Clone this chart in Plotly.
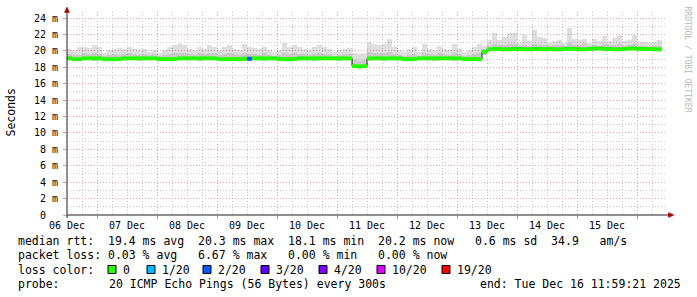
import plotly.graph_objects as go
from datetime import datetime, timedelta

# ---------------- data ----------------
bin_start = datetime(2025, 12, 6, 12, 0, 0)
bin_hours = 2

median_ms = [
    19.1, 19.0, 19.0, 19.1, 19.1, 19.1, 19.1, 19.0, 19.0, 19.0, 19.0, 19.1,
    19.1, 19.1, 19.1, 19.1, 19.1, 19.1, 19.0, 19.0, 19.0, 19.0, 19.1, 19.1,
    19.1, 19.1, 19.1, 19.1, 19.1, 19.1, 19.0, 19.0, 19.0, 19.0, 19.0, 19.05,
    19.05, 19.1, 19.1, 19.1, 19.1, 19.1, 19.0, 19.0, 19.0, 19.0, 19.1, 19.1,
    19.1, 19.1, 19.1, 19.1, 19.1, 19.1, 19.1, 19.1, 19.1, 18.15, 18.1, 18.15,
    19.1, 19.1, 19.1, 19.1, 19.1, 19.1, 19.1, 19.0, 19.0, 19.0, 19.1, 19.1,
    19.1, 19.1, 19.1, 19.1, 19.1, 19.1, 19.1, 19.0, 19.0, 19.0, 19.0, 19.9,
    20.2, 20.25, 20.25, 20.2, 20.2, 20.25, 20.25, 20.2, 20.2, 20.25, 20.25, 20.2,
    20.25, 20.2, 20.2, 20.25, 20.25, 20.25, 20.2, 20.2, 20.25, 20.3, 20.3, 20.25,
    20.25, 20.2, 20.2, 20.25, 20.3, 20.3, 20.25, 20.25, 20.25, 20.2, 20.2,
]

ping_max_ms = [
    20.3, 20.1, 20.5, 20.5, 20.4, 20.7, 20.5, 19.8, 20.1, 20.3, 20.4, 20.2,
    20.5, 20.2, 20.1, 20.2, 19.9, 20.1, 19.8, 20.1, 20.5, 20.7, 20.9, 20.7,
    20.2, 20.1, 20.5, 20.3, 20.7, 20.5, 20.1, 20.5, 20.7, 20.3, 20.1, 20.9,
    20.5, 20.4, 20.3, 20.5, 20.1, 19.9, 20.1, 21.0, 20.5, 20.7, 20.5, 20.3,
    20.1, 20.5, 20.7, 20.5, 20.3, 19.9, 20.1, 20.3, 20.4, 19.7, 19.6, 19.7,
    21.1, 20.9, 20.7, 20.9, 21.4, 20.5, 20.1, 19.9, 20.2, 20.5, 19.9, 20.9,
    20.3, 20.1, 20.6, 20.3, 20.1, 20.9, 20.3, 19.9, 20.1, 20.5, 20.9, 20.6,
    21.3, 22.2, 21.3, 21.7, 22.2, 22.2, 21.0, 21.9, 21.2, 22.6, 21.7, 21.6,
    21.0, 21.2, 21.3, 21.0, 22.8, 21.5, 21.3, 21.4, 21.0, 21.5, 21.2, 21.8,
    21.2, 21.6, 21.9, 21.2, 21.3, 21.9, 21.1, 21.1, 21.0, 21.1, 21.3,
]

ping_upper_ms = [
    19.6, 19.5, 19.5, 19.7, 19.6, 19.8, 19.6, 19.4, 19.5, 19.6, 19.5, 19.6,
    19.7, 19.6, 19.5, 19.6, 19.5, 19.6, 19.4, 19.5, 19.6, 19.7, 19.8, 19.7,
    19.6, 19.5, 19.7, 19.6, 19.8, 19.7, 19.5, 19.6, 19.7, 19.6, 19.5, 19.8,
    19.6, 19.6, 19.5, 19.7, 19.5, 19.4, 19.5, 19.8, 19.6, 19.7, 19.6, 19.6,
    19.5, 19.6, 19.7, 19.6, 19.6, 19.4, 19.5, 19.6, 19.6, 18.9, 18.8, 18.9,
    19.9, 19.8, 19.7, 19.7, 19.9, 19.6, 19.5, 19.4, 19.5, 19.6, 19.4, 19.7,
    19.6, 19.5, 19.7, 19.6, 19.5, 19.7, 19.6, 19.4, 19.5, 19.6, 19.7, 20.2,
    20.6, 20.8, 20.7, 20.7, 20.8, 20.8, 20.6, 20.7, 20.6, 20.9, 20.7, 20.7,
    20.6, 20.7, 20.7, 20.6, 21.0, 20.7, 20.7, 20.8, 20.6, 20.7, 20.6, 20.8,
    20.7, 20.7, 20.8, 20.6, 20.7, 20.8, 20.6, 20.6, 20.5, 20.6, 20.6,
]

ping_min_ms = [
    18.9, 18.8, 18.8, 18.9, 18.9, 18.8, 18.9, 18.8, 18.8, 18.8, 18.8, 18.9,
    18.9, 18.9, 18.8, 18.9, 18.9, 18.9, 18.8, 18.8, 18.8, 18.8, 18.9, 18.9,
    18.9, 18.9, 18.8, 18.9, 18.9, 18.9, 18.8, 18.8, 18.8, 18.8, 18.8, 18.8,
    18.8, 18.9, 18.9, 18.8, 18.9, 18.9, 18.8, 18.8, 18.8, 18.8, 18.9, 18.9,
    18.9, 18.8, 18.9, 18.9, 18.9, 18.9, 18.8, 18.9, 18.9, 17.9, 17.9, 17.9,
    18.8, 18.9, 18.9, 18.8, 18.9, 18.9, 18.9, 18.8, 18.8, 18.8, 18.9, 18.9,
    18.9, 18.8, 18.9, 18.9, 18.9, 18.8, 18.9, 18.8, 18.8, 18.8, 18.8, 19.5,
    20.0, 20.0, 20.0, 20.0, 20.0, 20.0, 20.0, 20.0, 20.0, 20.0, 20.0, 20.0,
    20.0, 20.0, 20.0, 20.0, 20.0, 20.0, 20.0, 20.0, 20.0, 20.0, 20.1, 20.0,
    20.0, 20.0, 20.0, 20.0, 20.1, 20.1, 20.0, 20.0, 20.0, 20.0, 20.0,
]

loss_pct = [0.0] * 36 + [6.67] + [0.0] * 82

loss_levels = [0, 1, 2, 3, 4, 10, 19]
loss_labels = ["0", "1/20", "2/20", "3/20", "4/20", "10/20", "19/20"]
loss_colors = ["#26ff00", "#00b8ff", "#0059ff", "#5e00ff", "#7e00ff", "#dd00ff", "#ff0000"]

y_tick_vals = [0, 2, 4, 6, 8, 10, 12, 14, 16, 18, 20, 22, 24]
y_tick_text = ["0\u00a0\u00a0", "2 m", "4 m", "6 m", "8 m", "10 m", "12 m",
               "14 m", "16 m", "18 m", "20 m", "22 m", "24 m"]
day_labels = ["06 Dec", "07 Dec", "08 Dec", "09 Dec", "10 Dec",
              "11 Dec", "12 Dec", "13 Dec", "14 Dec", "15 Dec"]

legend_lines = [
    "median rtt:  19.4 ms avg  20.3 ms max  18.1 ms min  20.2 ms now   0.6 ms sd  34.9   am/s",
    "packet loss: 0.03 % avg   6.67 % max   0.00 % min   0.00 % now",
]
loss_title = "loss color:"
probe_label = "probe:"
probe_text = "20 ICMP Echo Pings (56 Bytes) every 300s"
end_text = "end: Tue Dec 16 11:59:21 2025"
range_start = "2025-12-06 11:59:21"
range_end = "2025-12-16 11:59:21"

# ---------------- layout geometry ----------------
W, H = 697, 297
L, R, T, B = 67, 30, 12, 82
PW, PH = W - L - R, H - T - B


def px(x):
    return (x - L) / PW


def py(y):
    return (T + PH - y) / PH


MONO = "DejaVu Sans Mono"
n = len(median_ms)
step = timedelta(hours=bin_hours)
centers = [bin_start + step * (i + 0.5) for i in range(n)]
edges = [bin_start + step * i for i in range(n + 1)]
width_ms = bin_hours * 3600 * 1000


def loss_color(p):
    pings = p / 100.0 * 20
    for lvl, col in zip(loss_levels, loss_colors):
        if pings <= lvl + 1e-9:
            return col
    return loss_colors[-1]


fig = go.Figure()

# smoke: outer (light)
fig.add_trace(go.Bar(
    x=centers, y=[hi - lo for hi, lo in zip(ping_max_ms, ping_min_ms)], base=ping_min_ms,
    width=width_ms, marker=dict(color="rgba(128,128,128,0.26)", line=dict(width=0)),
    hoverinfo="skip", showlegend=False))
# smoke: inner (darker)
fig.add_trace(go.Bar(
    x=centers, y=[hi - lo for hi, lo in zip(ping_upper_ms, ping_min_ms)], base=ping_min_ms,
    width=width_ms, marker=dict(color="rgba(128,128,128,0.22)", line=dict(width=0)),
    hoverinfo="skip", showlegend=False))
# dark median step line (visible at the steps)
fig.add_trace(go.Scatter(
    x=edges, y=median_ms + [median_ms[-1]], mode="lines",
    line=dict(color="#202020", width=1, shape="hv"), hoverinfo="skip", showlegend=False))
# loss-coloured median segments, one trace per colour
seg_colors = [loss_color(p) for p in loss_pct]
for col in loss_colors:
    xs, ys = [], []
    for i in range(n):
        if seg_colors[i] == col:
            xs += [edges[i], edges[i + 1], None]
            ys += [median_ms[i], median_ms[i], None]
    if xs:
        fig.add_trace(go.Scatter(x=xs, y=ys, mode="lines", connectgaps=False,
                                 line=dict(color=col, width=4), hoverinfo="skip", showlegend=False))

grid_minor = dict(showgrid=True, gridcolor="#c8c8c8", griddash="1px,2px", gridwidth=1)

fig.update_layout(
    width=W, height=H, autosize=False,
    margin=dict(l=L, r=R, t=T, b=B, pad=0),
    paper_bgcolor="white", plot_bgcolor="white",
    barmode="overlay", bargap=0,
    showlegend=False,
    xaxis=dict(
        type="date", range=[range_start, range_end],
        tick0="2025-12-07 00:00:00", dtick=86400000,
        showticklabels=False, ticks="outside", ticklen=3, tickcolor="#e89090",
        showgrid=True, gridcolor="#eea0a0", griddash="1px,2px", gridwidth=1,
        minor=dict(dtick=6 * 3600 * 1000, **grid_minor),
        showline=False, zeroline=False, fixedrange=True,
    ),
    yaxis=dict(
        range=[0, 24.75], tickmode="array", tickvals=y_tick_vals, ticktext=y_tick_text,
        ticks="outside", ticklen=3, tickcolor="#e89090",
        tickfont=dict(family=MONO, size=10, color="#000000"),
        ticklabelstandoff=3,
        showgrid=True, gridcolor="#eea0a0", griddash="1px,2px", gridwidth=1,
        minor=dict(dtick=1, **grid_minor),
        showline=False, zeroline=False, fixedrange=True,
    ),
)

shapes = []
# axes
shapes.append(dict(type="line", xref="paper", yref="paper", x0=px(67), x1=px(669), y0=py(215), y1=py(215),
                   line=dict(color="#202020", width=1)))
shapes.append(dict(type="line", xref="paper", yref="paper", x0=px(67), x1=px(67), y0=py(218), y1=py(11),
                   line=dict(color="#202020", width=1)))
# arrows
shapes.append(dict(type="path", xref="paper", yref="paper",
                   path=f"M {px(67)},{py(7)} L {px(64.5)},{py(12.5)} L {px(69.5)},{py(12.5)} Z",
                   fillcolor="#b00000", line=dict(color="#b00000", width=0.5)))
shapes.append(dict(type="path", xref="paper", yref="paper",
                   path=f"M {px(674)},{py(215)} L {px(668.5)},{py(212.5)} L {px(668.5)},{py(217.5)} Z",
                   fillcolor="#b00000", line=dict(color="#b00000", width=0.5)))

annotations = []
# x labels at noon
for d, lab in enumerate(day_labels):
    t = datetime(2025, 12, 6 + d, 12, 0, 0)
    annotations.append(dict(x=t, xref="x", y=py(225.5), yref="paper", text=lab, showarrow=False,
                            xanchor="center", yanchor="middle",
                            font=dict(family=MONO, size=10, color="#000000")))
# y title
annotations.append(dict(x=px(10.5), y=py(113), xref="paper", yref="paper", text="Seconds", textangle=-90,
                        showarrow=False, xanchor="center", yanchor="middle",
                        font=dict(family=MONO, size=11.5, color="#000000")))
# watermark
annotations.append(dict(x=px(687.5), y=py(59), xref="paper", yref="paper", text="RRDTOOL / TOBI OETIKER",
                        textangle=90, showarrow=False, xanchor="center", yanchor="middle",
                        font=dict(family=MONO, size=8, color="#b8b8b8")))

LEG = dict(family=MONO, size=11.5, color="#000000")
line_y = [240.5, 255, 269.5, 284]
for i, txt in enumerate(legend_lines):
    annotations.append(dict(x=px(16), y=py(line_y[i]), xref="paper", yref="paper", text=txt.replace(" ", "\u00a0"),
                            showarrow=False, xanchor="left", yanchor="middle", font=LEG))
annotations.append(dict(x=px(16), y=py(line_y[2]), xref="paper", yref="paper", text=loss_title.replace(" ", "\u00a0"),
                        showarrow=False, xanchor="left", yanchor="middle", font=LEG))
sq_x = [108, 147, 203, 261, 319, 377, 442]
for sx, lab, col in zip(sq_x, loss_labels, loss_colors):
    shapes.append(dict(type="rect", xref="paper", yref="paper", x0=px(sx), x1=px(sx + 8),
                       y0=py(line_y[2] + 4), y1=py(line_y[2] - 4), fillcolor=col,
                       line=dict(color="#000000", width=1)))
    annotations.append(dict(x=px(sx + 13), y=py(line_y[2]), xref="paper", yref="paper", text=lab,
                            showarrow=False, xanchor="left", yanchor="middle", font=LEG))
annotations.append(dict(x=px(16), y=py(line_y[3]), xref="paper", yref="paper", text=probe_label,
                        showarrow=False, xanchor="left", yanchor="middle", font=LEG))
annotations.append(dict(x=px(107), y=py(line_y[3]), xref="paper", yref="paper", text=probe_text.replace(" ", "\u00a0"),
                        showarrow=False, xanchor="left", yanchor="middle", font=LEG))
annotations.append(dict(x=px(478), y=py(line_y[3]), xref="paper", yref="paper", text=end_text.replace(" ", "\u00a0"),
                        showarrow=False, xanchor="left", yanchor="middle", font=LEG))

fig.update_layout(shapes=shapes, annotations=annotations)
fig.write_html("out.html")
